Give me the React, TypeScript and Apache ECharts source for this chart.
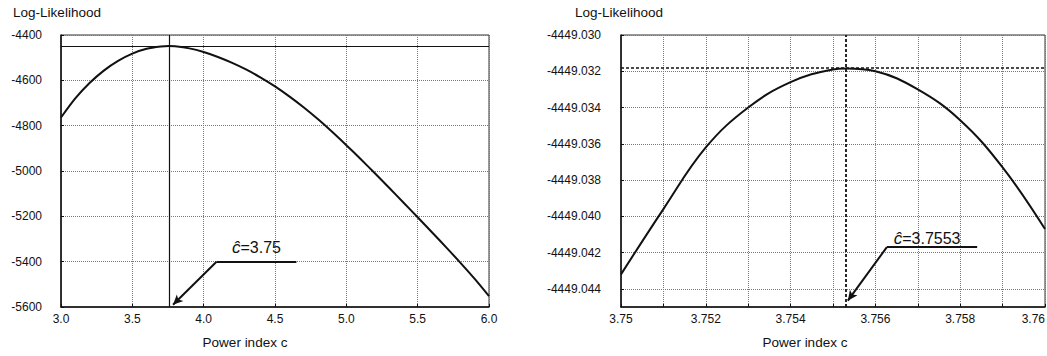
import React, { useEffect, useRef } from "react";
import * as echarts from "echarts";

// ---- Left panel: broad scan of the power index ----
const leftC = [3.0, 3.1, 3.2, 3.3, 3.4, 3.5, 3.6, 3.7, 3.7553, 3.8, 3.9, 4.0, 4.1, 4.2, 4.3, 4.4, 4.5, 4.6, 4.7, 4.8, 4.9, 5.0, 5.1, 5.2, 5.3, 5.4, 5.5, 5.6, 5.7, 5.8, 5.9, 6.0];
const leftLL = [-4764, -4680, -4612, -4557, -4514, -4482, -4461, -4451, -4449.03, -4450, -4459, -4475, -4497, -4523, -4553, -4588, -4627, -4671, -4719, -4771, -4827, -4886, -4947, -5010, -5074, -5139, -5204, -5270, -5337, -5405, -5476, -5552];

// ---- Right panel: zoom around the maximum ----
const rightC = [3.75, 3.751, 3.752, 3.753, 3.754, 3.755, 3.7553, 3.756, 3.757, 3.758, 3.759, 3.76];
const rightLL = [-4449.0432, -4449.0396, -4449.0362, -4449.034, -4449.0326, -4449.0319, -4449.03185, -4449.032, -4449.033, -4449.0347, -4449.0373, -4449.0407];

// Maximum and annotation anchors (data space)
const peakC = 3.7553;
const peakLL = -4449.0318;
const leftLabel = "3.75";
const rightLabel = "3.7553";
const leftArrow = { start: [4.65, -5400], bend: [4.09, -5400], tip: [3.785, -5590], text: [4.37, -5336] };
const rightArrow = { start: [3.7584, -4449.0417], bend: [3.75627, -4449.0417], tip: [3.75535, -4449.04465], text: [3.75722, -4449.0412] };

const FONT = '"Liberation Sans", Arial, Helvetica, sans-serif';
const INK = "#111";

function axisCommon() {
  return {
    type: "value" as const,
    axisLine: { show: true, onZero: false, lineStyle: { color: INK, width: 1.5 } },
    axisTick: { show: true, inside: true, length: 3, lineStyle: { color: INK } },
    splitLine: { show: true, lineStyle: { color: "#7a7a7a", type: "dotted", width: 1 } },
  };
}

function annotation(a: any, label: string) {
  return {
    markLine: {
      silent: true,
      symbol: ["none", "none"],
      label: { show: false },
      lineStyle: { color: INK, width: 2, type: "solid" },
      data: [
        [{ coord: a.start, symbol: "none" }, { coord: a.bend, symbol: "none" }],
        [{ coord: a.bend, symbol: "none" }, { coord: a.tip, symbol: "arrow", symbolSize: [7, 10] }],
      ],
    },
    markPoint: {
      silent: true,
      symbol: "circle",
      symbolSize: 0,
      label: {
        show: true,
        position: "inside",
        formatter: "{c|ĉ}{n|=" + label + "}",
        rich: {
          c: { fontSize: 17, fontStyle: "italic", color: INK, fontFamily: FONT },
          n: { fontSize: 16, color: INK, fontFamily: FONT },
        },
      },
      data: [{ coord: a.text }],
    },
  };
}

export default function App() {
  const ref = useRef<HTMLDivElement>(null);
  useEffect(() => {
    if (!ref.current) return;
    const chart = echarts.init(ref.current, undefined, { renderer: "svg" });
    const leftData = leftC.map((c, i) => [c, leftLL[i]]);
    const rightData = rightC.map((c, i) => [c, rightLL[i]]);
    const leftAnn = annotation(leftArrow, leftLabel);
    const rightAnn = annotation(rightArrow, rightLabel);

    chart.setOption({
      animation: false,
      backgroundColor: "#fff",
      textStyle: { fontFamily: FONT, color: INK },
      grid: [
        { left: 61, top: 35, width: 428, height: 272, show: true, borderColor: "#333", borderWidth: 1, outerBoundsMode: "none" },
        { left: 621, top: 35, width: 424, height: 272, show: true, borderColor: "#333", borderWidth: 1, outerBoundsMode: "none" },
      ],
      xAxis: [
        {
          ...axisCommon(),
          gridIndex: 0,
          min: 3,
          max: 6,
          interval: 0.5,
          axisLabel: { formatter: (v: number) => v.toFixed(1), fontSize: 12, color: INK, margin: 6 },
        },
        {
          ...axisCommon(),
          gridIndex: 1,
          min: 3.75,
          max: 3.76,
          interval: 0.001,
          axisLabel: {
            formatter: (v: number) => (Math.round(v * 1000) % 2 === 0 ? String(parseFloat(v.toFixed(3))) : ""),
            fontSize: 12,
            color: INK,
            margin: 6,
            alignMaxLabel: "right",
          },
        },
      ],
      yAxis: [
        {
          ...axisCommon(),
          gridIndex: 0,
          min: -5600,
          max: -4400,
          interval: 200,
          axisLabel: { formatter: (v: number) => v.toFixed(0), fontSize: 12, color: INK, margin: 19 },
        },
        {
          ...axisCommon(),
          gridIndex: 1,
          min: -4449.045,
          max: -4449.03,
          splitNumber: 8,
          axisLabel: { formatter: (v: number) => v.toFixed(3), fontSize: 12, color: INK, margin: 20, showMinLabel: false },
        },
      ],
      series: [
        {
          type: "line",
          xAxisIndex: 0,
          yAxisIndex: 0,
          data: leftData,
          smooth: 0.25,
          symbol: "none",
          lineStyle: { color: INK, width: 2 },
          markLine: {
            ...leftAnn.markLine,
            data: [
              ...leftAnn.markLine.data,
              [{ coord: [3, peakLL], symbol: "none" }, { coord: [6, peakLL], symbol: "none", lineStyle: { width: 1.2 } }],
              [{ coord: [peakC, -5600], symbol: "none" }, { coord: [peakC, -4400], symbol: "none", lineStyle: { width: 1.2 } }],
            ],
          },
          markPoint: leftAnn.markPoint,
        },
        {
          type: "line",
          xAxisIndex: 1,
          yAxisIndex: 1,
          data: rightData,
          smooth: 0.4,
          symbol: "none",
          lineStyle: { color: INK, width: 2 },
          markLine: {
            ...rightAnn.markLine,
            data: [
              ...rightAnn.markLine.data,
              [{ coord: [3.75, peakLL], symbol: "none" }, { coord: [3.76, peakLL], symbol: "none", lineStyle: { width: 1.5, type: [3, 2] } }],
              [{ coord: [peakC, -4449.045], symbol: "none" }, { coord: [peakC, -4449.03], symbol: "none", lineStyle: { width: 1.8, type: [3, 2] } }],
            ],
          },
          markPoint: rightAnn.markPoint,
        },
      ],
      graphic: [
        { type: "text", x: 57, y: 12, style: { text: "Log-Likelihood", fontSize: 13.5, fontFamily: FONT, fill: INK, align: "center", verticalAlign: "middle" } },
        { type: "text", x: 619, y: 12, style: { text: "Log-Likelihood", fontSize: 13.5, fontFamily: FONT, fill: INK, align: "center", verticalAlign: "middle" } },
        { type: "text", x: 245, y: 342, style: { text: "Power index c", fontSize: 13.5, fontFamily: FONT, fill: INK, align: "center", verticalAlign: "middle" } },
        { type: "text", x: 805, y: 342, style: { text: "Power index c", fontSize: 13.5, fontFamily: FONT, fill: INK, align: "center", verticalAlign: "middle" } },
      ],
    });
    return () => chart.dispose();
  }, []);
  return <div ref={ref} style={{ position: "fixed", left: 0, top: 0, width: 1047, height: 356 }} />;
}
